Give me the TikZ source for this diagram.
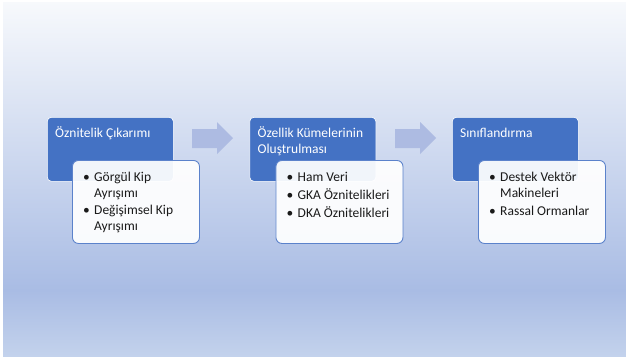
\documentclass[tikz,border=0pt]{standalone}
\usepackage{fontspec}
\setmainfont{Carlito}
\definecolor{bgtop}{HTML}{F7F9FC}
\definecolor{bgmid}{HTML}{A9BCE4}
\definecolor{bgbot}{HTML}{C3D2EC}
\definecolor{accent}{HTML}{4472C4}
\definecolor{arrowfill}{HTML}{ADBBE2}
\definecolor{wbord}{HTML}{5B82CB}
\definecolor{txt}{HTML}{1A1A1A}
\begin{document}
\begin{tikzpicture}[x=1bp,y=-1bp,
  bluebox/.style={fill=accent, draw=white, line width=0.6bp, rounded corners=4bp,
    minimum width=126bp, minimum height=64bp, anchor=north west, inner sep=0pt},
  whitebox/.style={fill=white, fill opacity=0.93, draw=wbord, line width=0.9bp, rounded corners=6bp,
    minimum width=127bp, minimum height=83bp, anchor=north west, inner sep=0pt},
  titletext/.style={text=white, font=\fontsize{13.5bp}{16bp}\selectfont, anchor=base west, inner sep=0pt},
  itemtext/.style={text=txt, font=\fontsize{13.5bp}{16bp}\selectfont, anchor=base west, inner sep=0pt},
  flowarrow/.style={fill=arrowfill}
]
\useasboundingbox (0,0) rectangle (626,356);
\fill[white] (0,0) rectangle (626,356);
\shade[top color=bgtop, bottom color=bgmid] (3,2) rectangle (626,290.5);
\shade[top color=bgmid, bottom color=bgbot] (3,290) rectangle (626,356);

% arrows
\fill[flowarrow] (192,129) -- (217,129) -- (217,122) -- (233,138) -- (217,154) -- (217,148) -- (192,148) -- cycle;
\fill[flowarrow] (395,129) -- (420,129) -- (420,122) -- (436,138) -- (420,154) -- (420,148) -- (395,148) -- cycle;

% stage 1
\node[bluebox] (b1) at (47,117) {};
\node[titletext] (b1t) at (55,137) {Öznitelik Çıkarımı};
\node[whitebox] (w1) at (72,160) {};
\node[itemtext] (w1a) at (83,181) {•};
\node[itemtext] (w1b) at (94,181) {Görgül Kip};
\node[itemtext] (w1c) at (94,197) {Ayrışımı};
\node[itemtext] (w1d) at (83,214) {•};
\node[itemtext] (w1e) at (94,214) {Değişimsel Kip};
\node[itemtext] (w1f) at (94,230) {Ayrışımı};

% stage 2
\node[bluebox] (b2) at (249.5,117) {};
\node[titletext] (b2t) at (257.5,137) {Özellik Kümelerinin};
\node[titletext] (b2u) at (257.5,153) {Oluştrulması};
\node[whitebox] (w2) at (275.5,160) {};
\node[itemtext] (w2a) at (286.5,181) {•};
\node[itemtext] (w2b) at (297.5,181) {Ham Veri};
\node[itemtext] (w2c) at (286.5,199) {•};
\node[itemtext] (w2d) at (297.5,199) {GKA Öznitelikleri};
\node[itemtext] (w2e) at (286.5,217) {•};
\node[itemtext] (w2f) at (297.5,217) {DKA Öznitelikleri};

% stage 3
\node[bluebox] (b3) at (452,117) {};
\node[titletext] (b3t) at (460,137) {Sınıflandırma};
\node[whitebox] (w3) at (478,160) {};
\node[itemtext] (w3a) at (489,181) {•};
\node[itemtext] (w3b) at (500,181) {Destek Vektör};
\node[itemtext] (w3c) at (500,197) {Makineleri};
\node[itemtext] (w3d) at (489,215) {•};
\node[itemtext] (w3e) at (500,215) {Rassal Ormanlar};
\end{tikzpicture}
\end{document}
